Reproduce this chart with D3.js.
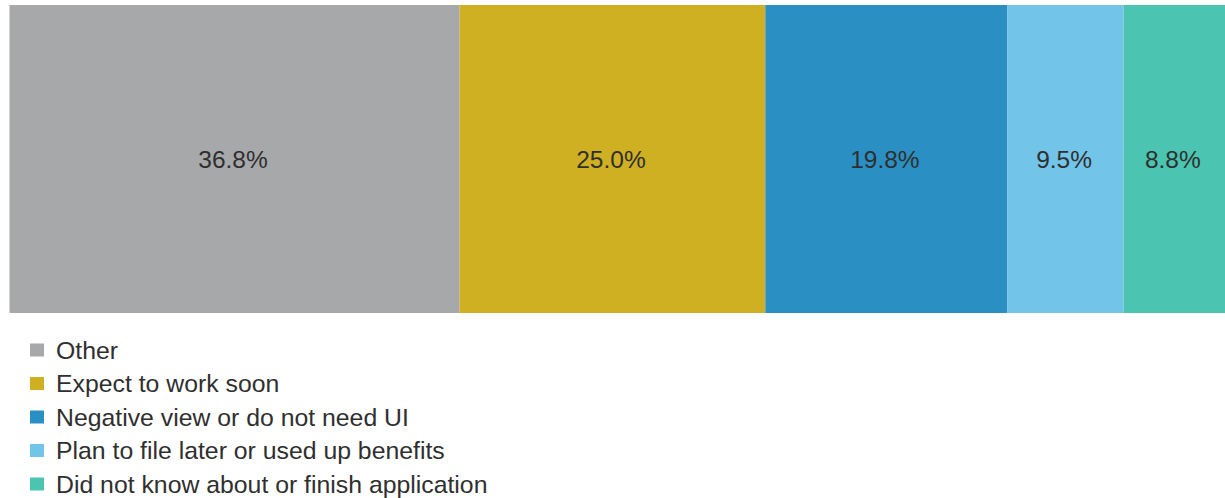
<!DOCTYPE html>
<html><head><meta charset="utf-8">
<script src="https://cdn.jsdelivr.net/npm/d3@7"></script>
<style>body{margin:0;background:#fff;overflow:hidden}svg{display:block}</style>
</head><body><svg id="c" width="1225" height="498"></svg>
<script>
const categories = ["Other","Expect to work soon","Negative view or do not need UI","Plan to file later or used up benefits","Did not know about or finish application"];
const values = [36.8, 25.0, 19.8, 9.5, 8.8];
const labels = ["36.8%","25.0%","19.8%","9.5%","8.8%"];
const colors = ["#a7a8aa","#cfb022","#2a8fc3","#72c5e9","#4bc4b1"];

const svg = d3.select("#c");
const total = d3.sum(values);
const x = d3.scaleLinear().domain([0, total]).range([9.5, 9.5 + total * 12.23]);
let acc = 0;
const segs = values.map((v,i)=>{const s={i,v,x0:acc,x1:acc+v}; acc+=v; return s;});
const y0 = 5, y1 = 313;
svg.selectAll("rect.seg").data(segs).join("rect").attr("class","seg")
  .attr("x",d=>x(d.x0)).attr("width",d=>x(d.x1)-x(d.x0))
  .attr("y",y0).attr("height",y1-y0).attr("fill",d=>colors[d.i]);
svg.selectAll("text.lab").data(segs).join("text").attr("class","lab")
  .attr("x",d=>(x(d.x0)+Math.min(x(d.x1),1225))/2 - 1.5).attr("y",167.5)
  .attr("text-anchor","middle")
  .attr("font-family","Liberation Sans, Arial, sans-serif").attr("font-size",24.5)
  .attr("fill","#2f2f2f").text(d=>labels[d.i]);
const lg = svg.append("g");
categories.forEach((c,i)=>{
  const cy = 350 + i*33.5;
  lg.append("rect").attr("x",30).attr("y",cy-6.5).attr("width",14).attr("height",13).attr("fill",colors[i]);
  lg.append("text").attr("x",56).attr("y",cy+8.5).attr("font-family","Liberation Sans, Arial, sans-serif")
    .attr("font-size",24.8).attr("fill","#2f2f2f").text(c);
});
</script></body></html>
